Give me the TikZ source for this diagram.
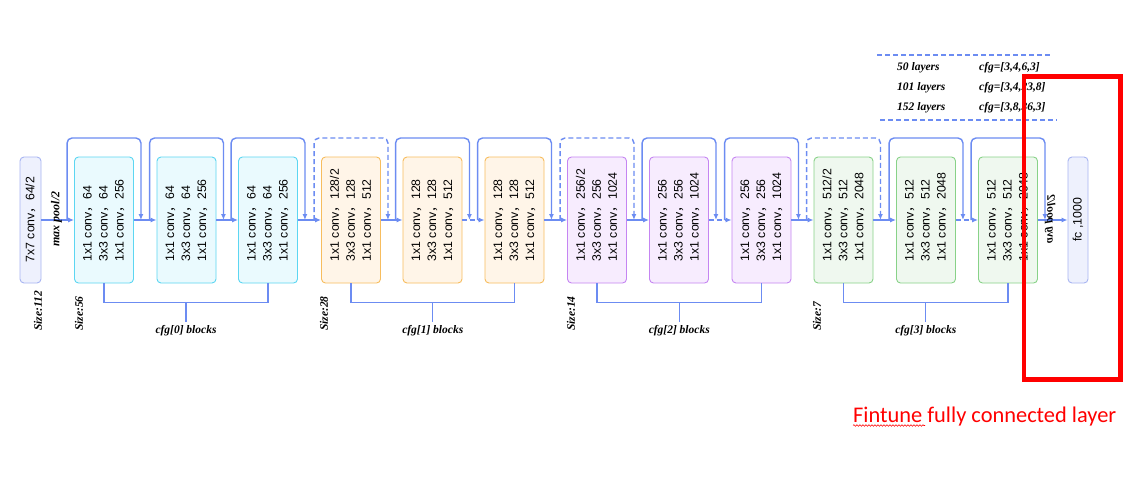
\documentclass[tikz,border=0pt]{standalone}
\usepackage{fontspec}
\setmainfont{Liberation Serif}
\newfontfamily\arial{Liberation Sans}
\newfontfamily\calibri{Carlito}
\newfontfamily\cjk{Noto Sans CJK SC}
\usetikzlibrary{arrows.meta,calc,decorations.pathmorphing}

% full-width comma used in the layer descriptions
\newcommand\fwc{\makebox[1em][l]{\cjk ，}}

\definecolor{flow}{HTML}{6C8CF2}
\definecolor{cyanE}{HTML}{5CD6F2}\definecolor{cyanF}{HTML}{EAFAFE}
\definecolor{oraE}{HTML}{F7BD5E}\definecolor{oraF}{HTML}{FFF5E8}
\definecolor{purE}{HTML}{C585F2}\definecolor{purF}{HTML}{F7ECFE}
\definecolor{grnE}{HTML}{88D288}\definecolor{grnF}{HTML}{EFF8EF}
\definecolor{lavE}{HTML}{A8B5F2}\definecolor{lavF}{HTML}{EEF1FD}

\tikzset{
  blk/.style={draw, rounded corners=4pt, minimum width=59pt, minimum height=126pt,
              line width=0.9pt, inner sep=0pt},
  txt/.style={rotate=90, anchor=west, align=left, inner sep=0pt,
              font=\arial\fontsize{12.3}{16}\selectfont},
  flowline/.style={draw=flow, line width=1.4pt},
  arr/.style={flowline, -{Latex[length=6pt,width=5pt]}},
  skip/.style={arr, rounded corners=5pt},
  dashskip/.style={skip, dash pattern=on 5pt off 3pt},
  lbl/.style={font=\bfseries\itshape\fontsize{11.5}{13}\selectfont},
  tabline/.style={draw=flow, line width=1.2pt, dash pattern=on 5pt off 3pt},
}

% bottleneck block: name, centre x, edge colour, fill colour, three layer lines
\newcommand\resblock[5]{%
  \node[blk, draw=#3, fill=#4] (#1) at (#2,220) {};
  \node[txt] (#1t) at ([yshift=22pt]#1.south) {#5};}

% shortcut arc over a block
\newcommand\skipover[2][skip]{%
  \draw[#1] ($(#2.west)+(-7,0)$) -- ++(0,-82) -| ($(#2.east)+(7,0)$);}

% bracket below a stage with its caption
\newcommand\stage[4]{%
  \draw[flowline] (#1.south) -- ++(0,19) -| (#2.south);
  \node[lbl] (#3) at ($(#1.south)!0.5!(#2.south)+(0,47)$) {#4};
  \draw[flowline] ($(#1.south)!0.5!(#2.south)+(0,19)$) -- (#3.north);}

\begin{document}
\begin{tikzpicture}[x=1pt, y=-1pt]
\useasboundingbox (0,0) rectangle (1131,487);
\fill[white] (0,0) rectangle (1131,487);

% stem and head
\node[blk, draw=lavE, fill=lavF, minimum width=21pt] (in) at (30.5,220) {};
\node[txt] (int) at ([yshift=21pt]in.south) {7x7 conv\fwc 64/2};
\node[blk, draw=lavE, fill=lavF, minimum width=20pt] (fc) at (1078,220) {};
\node[txt, anchor=center] (fct) at (fc) {fc ,1000};

% stage 1
\resblock{c1}{104}{cyanE}{cyanF}{1x1 conv\fwc 64\\3x3 conv\fwc 64\\1x1 conv\fwc 256}
\resblock{c2}{186.5}{cyanE}{cyanF}{1x1 conv\fwc 64\\3x3 conv\fwc 64\\1x1 conv\fwc 256}
\resblock{c3}{268}{cyanE}{cyanF}{1x1 conv\fwc 64\\3x3 conv\fwc 64\\1x1 conv\fwc 256}
% stage 2
\resblock{o1}{351}{oraE}{oraF}{1x1 conv\fwc 128/2\\3x3 conv\fwc 128\\1x1 conv\fwc 512}
\resblock{o2}{432.5}{oraE}{oraF}{1x1 conv\fwc 128\\3x3 conv\fwc 128\\1x1 conv\fwc 512}
\resblock{o3}{514.5}{oraE}{oraF}{1x1 conv\fwc 128\\3x3 conv\fwc 128\\1x1 conv\fwc 512}
% stage 3
\resblock{p1}{597}{purE}{purF}{1x1 conv\fwc 256/2\\3x3 conv\fwc 256\\1x1 conv\fwc 1024}
\resblock{p2}{679}{purE}{purF}{1x1 conv\fwc 256\\3x3 conv\fwc 256\\1x1 conv\fwc 1024}
\resblock{p3}{761.5}{purE}{purF}{1x1 conv\fwc 256\\3x3 conv\fwc 256\\1x1 conv\fwc 1024}
% stage 4
\resblock{g1}{843.5}{grnE}{grnF}{1x1 conv\fwc 512/2\\3x3 conv\fwc 512\\1x1 conv\fwc 2048}
\resblock{g2}{926}{grnE}{grnF}{1x1 conv\fwc 512\\3x3 conv\fwc 512\\1x1 conv\fwc 2048}
\resblock{g3}{1008}{grnE}{grnF}{1x1 conv\fwc 512\\3x3 conv\fwc 512\\1x1 conv\fwc 2048}

% main data path
\draw[arr] (in.east) -- (c1.west);
\draw[arr] (c1.east) -- (c2.west);
\draw[arr] (c2.east) -- (c3.west);
\draw[arr] (c3.east) -- (o1.west);
\draw[arr] (o1.east) -- (o2.west);
\draw[arr, dash pattern=on 5pt off 3pt] (o2.east) -- (o3.west);
\draw[arr] (o3.east) -- (p1.west);
\draw[arr] (p1.east) -- (p2.west);
\draw[arr, dash pattern=on 5pt off 3pt] (p2.east) -- (p3.west);
\draw[arr] (p3.east) -- (g1.west);
\draw[arr] (g1.east) -- (g2.west);
\draw[arr, dash pattern=on 5pt off 3pt] (g2.east) -- (g3.west);
\draw[arr] (g3.east) -- (fc.west);

% shortcuts (dashed = projection shortcut)
\skipover{c1}\skipover{c2}\skipover{c3}
\skipover[dashskip]{o1}\skipover{o2}\skipover{o3}
\skipover[dashskip]{p1}\skipover{p2}\skipover{p3}
\skipover[dashskip]{g1}\skipover{g2}\skipover{g3}

% pooling labels
\node[lbl, rotate=90, font=\bfseries\itshape\fontsize{12}{13}\selectfont] (mp) at (56.5,219) {max pool/2};
\node[lbl, rotate=90, yscale=-1, transform shape, font=\bfseries\itshape\fontsize{11.5}{13}\selectfont] (ap) at (1050,219) {avg pool/2};

% feature map sizes
\node[lbl, rotate=90, anchor=west, inner sep=0pt] (s112) at (38,331) {Size:112};
\node[lbl, rotate=90, anchor=west, inner sep=0pt] (s56) at (79,331) {Size:56};
\node[lbl, rotate=90, anchor=west, inner sep=0pt] (s28) at (324,331) {Size:28};
\node[lbl, rotate=90, anchor=west, inner sep=0pt] (s14) at (571,331) {Size:14};
\node[lbl, rotate=90, anchor=west, inner sep=0pt] (s7) at (817,331) {Size:7};

% stage brackets
\stage{c1}{c3}{cfg0}{cfg[0] blocks}
\stage{o1}{o3}{cfg1}{cfg[1] blocks}
\stage{p1}{p3}{cfg2}{cfg[2] blocks}
\stage{g1}{g3}{cfg3}{cfg[3] blocks}

% depth table
\coordinate (tA) at (877,55);  \coordinate (tB) at (1052,55);
\coordinate (tC) at (880,120); \coordinate (tD) at (1057,120);
\draw[tabline] (tA) -- (tB);
\draw[tabline] (tC) -- (tD);
\node[lbl, anchor=west, inner sep=0pt] (l50)  at (897,68)  {50 layers};
\node[lbl, anchor=west, inner sep=0pt] (l101) at (897,88)  {101 layers};
\node[lbl, anchor=west, inner sep=0pt] (l152) at (897,108) {152 layers};
\node[lbl, anchor=west, inner sep=0pt] (f50)  at (979,68)  {cfg=[3,4,6,3]};
\node[lbl, anchor=west, inner sep=0pt] (f101) at (979,88)  {cfg=[3,4,23,8]};
\node[lbl, anchor=west, inner sep=0pt] (f152) at (979,108) {cfg=[3,8,36,3]};

% highlighted region and note
\node[draw=red, line width=4.3pt, minimum width=96.5pt, minimum height=303pt,
      inner sep=0pt] (hl) at (1072.25,228) {};
\node[font=\calibri\fontsize{22.4}{26}\selectfont, text=red, anchor=base west,
      inner sep=0pt] (note) at (853,422) {Fintune fully connected layer};
\coordinate (sqA) at ($(note.base west)+(0,3.5)$);
\coordinate (sqB) at ($(note.base west)+(72,3.5)$);
\draw[red, line width=0.6pt, decorate,
      decoration={snake, amplitude=0.8pt, segment length=3pt}] (sqA) -- (sqB);
\end{tikzpicture}
\end{document}
